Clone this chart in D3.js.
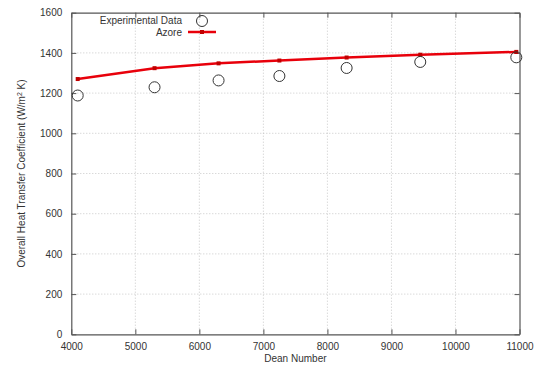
<!DOCTYPE html>
<html><head><meta charset="utf-8">
<script src="https://cdn.jsdelivr.net/npm/d3@7"></script>
<style>body{margin:0;background:#fff}text{font-family:"Liberation Sans",Arial,sans-serif}</style>
</head><body><svg id="c" width="548" height="366"></svg>
<script>
const deanNumbers = [4100, 5300, 6300, 7250, 8300, 9450, 10950];
const experimental = [1188, 1229, 1263, 1285, 1325, 1355, 1378];
const azore = [1270, 1324, 1348, 1362, 1377, 1391, 1405];
const xTicks = [4000, 5000, 6000, 7000, 8000, 9000, 10000, 11000];
const yTicks = [0, 200, 400, 600, 800, 1000, 1200, 1400, 1600];

const svg = d3.select("#c");
const L = 71.3, R = 519.5, T = 12.7, B = 334.3;
const x = d3.scaleLinear().domain([4000, 11000]).range([L, R]);
const y = d3.scaleLinear().domain([0, 1600]).range([B, T]);

// grid
const g = svg.append("g");
g.selectAll(".gx").data(xTicks.slice(1, -1)).enter().append("line")
  .attr("x1", d => x(d)).attr("x2", d => x(d)).attr("y1", T).attr("y2", B)
  .attr("stroke", "#bbb").attr("stroke-width", 0.8).attr("stroke-dasharray", "1,2");
g.selectAll(".gy").data(yTicks.slice(1, -1)).enter().append("line")
  .attr("y1", d => y(d)).attr("y2", d => y(d)).attr("x1", L).attr("x2", R)
  .attr("stroke", "#bbb").attr("stroke-width", 0.8).attr("stroke-dasharray", "1,2");

// axes
const fmt = d3.format("d");
const ax = svg.append("g").attr("transform", `translate(0,${B})`)
  .call(d3.axisBottom(x).tickValues(xTicks).tickFormat(fmt).tickSizeInner(-5).tickSizeOuter(0).tickPadding(9));
const ay = svg.append("g").attr("transform", `translate(${L},0)`)
  .call(d3.axisLeft(y).tickValues(yTicks).tickFormat(fmt).tickSizeInner(-5).tickSizeOuter(0).tickPadding(9));
const axt = svg.append("g").attr("transform", `translate(0,${T})`)
  .call(d3.axisTop(x).tickValues(xTicks).tickFormat("").tickSizeInner(-5).tickSizeOuter(0));
const ayr = svg.append("g").attr("transform", `translate(${R},0)`)
  .call(d3.axisRight(y).tickValues(yTicks).tickFormat("").tickSizeInner(-5).tickSizeOuter(0));
[ax, ay, axt, ayr].forEach(a => {
  a.selectAll("path").attr("stroke", "#555").attr("stroke-width", 1.2);
  a.selectAll("line").attr("stroke", "#555");
  a.selectAll("text").attr("font-size", 10).attr("fill", "#333");
});

// red line
const line = d3.line().x((d, i) => x(deanNumbers[i])).y(d => y(d));
svg.append("path").datum(azore).attr("d", line).attr("fill", "none")
  .attr("stroke", "#e8000b").attr("stroke-width", 2.5);
svg.selectAll(".pt").data(azore).enter().append("rect")
  .attr("x", (d, i) => x(deanNumbers[i]) - 2).attr("y", d => y(d) - 2)
  .attr("width", 4).attr("height", 4).attr("fill", "#c00000");

// circles
svg.selectAll(".ex").data(experimental).enter().append("circle")
  .attr("cx", (d, i) => x(deanNumbers[i])).attr("cy", d => y(d)).attr("r", 5.5)
  .attr("fill", "none").attr("stroke", "#333").attr("stroke-width", 1);

// legend
svg.append("text").attr("x", 182).attr("y", 24).attr("text-anchor", "end")
  .attr("font-size", 10).attr("fill", "#333").text("Experimental Data");
svg.append("circle").attr("cx", 202).attr("cy", 21).attr("r", 5.5)
  .attr("fill", "none").attr("stroke", "#333");
svg.append("text").attr("x", 182).attr("y", 36).attr("text-anchor", "end")
  .attr("font-size", 10).attr("fill", "#333").text("Azore");
svg.append("line").attr("x1", 188).attr("x2", 216).attr("y1", 32).attr("y2", 32)
  .attr("stroke", "#e8000b").attr("stroke-width", 2.5);
svg.append("rect").attr("x", 200).attr("y", 30).attr("width", 4).attr("height", 4).attr("fill", "#c00000");

// axis labels
svg.append("text").attr("x", (L + R) / 2).attr("y", 362).attr("text-anchor", "middle")
  .attr("font-size", 10).attr("fill", "#333").text("Dean Number");
const yl = svg.append("text").attr("transform", `translate(25,${(T + B) / 2}) rotate(-90)`)
  .attr("text-anchor", "middle").attr("font-size", 10).attr("fill", "#333");
yl.append("tspan").text("Overall Heat Transfer Coefficient (W/m");
yl.append("tspan").attr("baseline-shift", "super").attr("font-size", 7).text("2");
yl.append("tspan").text(" K)");
</script></body></html>
